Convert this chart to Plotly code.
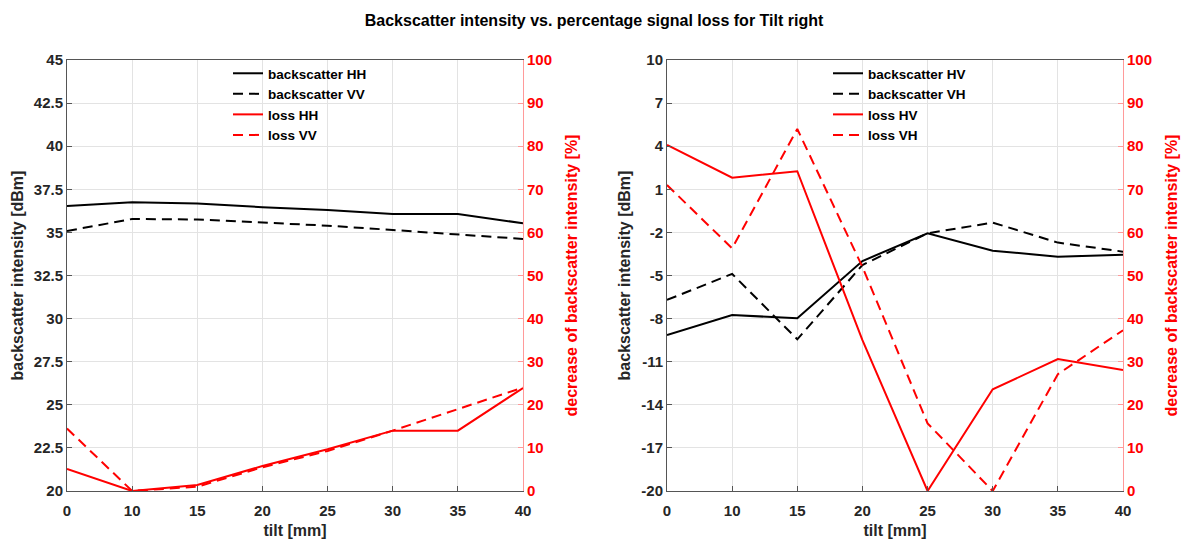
import plotly.graph_objects as go

# tilt steps (mm), drawn as equally spaced categories
tilt = ["0", "10", "15", "20", "25", "30", "35", "40"]

# co-polarised backscatter [dBm]
backscatter_hh = [36.53, 36.75, 36.67, 36.46, 36.3, 36.07, 36.07, 35.53]
backscatter_vv = [35.08, 35.78, 35.75, 35.59, 35.39, 35.14, 34.9, 34.62]
# co-polarised loss [%]
loss_hh = [5.1, 0.0, 1.4, 5.8, 9.7, 14.0, 14.0, 23.9]
loss_vv = [14.5, 0.0, 1.0, 5.5, 9.3, 14.0, 19.0, 24.0]

# cross-polarised backscatter [dBm]
backscatter_hv = [-9.14, -7.75, -7.98, -3.99, -2.06, -3.27, -3.69, -3.55]
backscatter_vh = [-6.7, -4.89, -9.44, -4.27, -2.06, -1.32, -2.71, -3.34]
# cross-polarised loss [%]
loss_hv = [80.3, 72.7, 74.2, 35.0, 0.0, 23.6, 30.6, 28.1]
loss_vh = [71.0, 56.3, 84.0, 52.0, 15.7, 0.0, 27.1, 37.3]

left_ticks = [20, 22.5, 25, 27.5, 30, 32.5, 35, 37.5, 40, 42.5, 45]
right_ticks = [-20, -17, -14, -11, -8, -5, -2, 1, 4, 7, 10]
pct_ticks = [0, 10, 20, 30, 40, 50, 60, 70, 80, 90, 100]

FONT = "Liberation Sans, Arial, sans-serif"
BLACK = "#000000"
RED = "#ff0000"
LW = 2
DASH = "10px,6px"

fig = go.Figure()

def add(x, y, name, color, dash, xa, ya, legend):
    fig.add_trace(go.Scatter(
        x=x, y=y, name=name, mode="lines",
        line=dict(color=color, width=LW, dash=dash),
        xaxis=xa, yaxis=ya, legend=legend,
    ))

add(tilt, backscatter_hh, "<b>backscatter HH</b>", BLACK, "solid", "x", "y", "legend")
add(tilt, backscatter_vv, "<b>backscatter VV</b>", BLACK, DASH, "x", "y", "legend")
add(tilt, loss_hh, "<b>loss HH</b>", RED, "solid", "x", "y2", "legend")
add(tilt, loss_vv, "<b>loss VV</b>", RED, DASH, "x", "y2", "legend")

add(tilt, backscatter_hv, "<b>backscatter HV</b>", BLACK, "solid", "x2", "y3", "legend2")
add(tilt, backscatter_vh, "<b>backscatter VH</b>", BLACK, DASH, "x2", "y3", "legend2")
add(tilt, loss_hv, "<b>loss HV</b>", RED, "solid", "x2", "y4", "legend2")
add(tilt, loss_vh, "<b>loss VH</b>", RED, DASH, "x2", "y4", "legend2")

W, H = 1188, 542
left_dom = [67 / W, 523 / W]
right_dom = [667 / W, 1123 / W]
y_dom = [1 - 491 / H, 1 - 60 / H]

tickfont_k = dict(family=FONT, size=15, color="#262626")
tickfont_r = dict(family=FONT, size=15, color=RED)
titlefont_k = dict(family=FONT, size=16, color="#262626")
titlefont_r = dict(family=FONT, size=16, color=RED)

xcommon = dict(
    type="category", categoryorder="array", categoryarray=tilt,
    range=[0, len(tilt) - 1], automargin=False,
    showgrid=True, gridcolor="#e3e3e3", gridwidth=1,
    showline=True, linecolor="#555555", linewidth=1, mirror=True,
    ticks="inside", ticklen=5, tickcolor="#555555",
    tickfont=tickfont_k, ticklabelstandoff=6,
    title=dict(text="<b>tilt [mm]</b>", font=titlefont_k, standoff=6),
    zeroline=False,
)
ycommon = dict(
    showgrid=True, gridcolor="#e3e3e3", gridwidth=1, automargin=False,
    showline=True, linecolor="#555555", linewidth=1,
    ticks="inside", ticklen=5, tickcolor="#555555",
    tickfont=tickfont_k, zeroline=False,
)
pct_common = dict(
    range=[0, 100], tickvals=pct_ticks, automargin=False,
    ticktext=[f"<b>{v}</b>" for v in pct_ticks],
    showgrid=False, showline=True, linecolor="#ff9a9a", linewidth=1,
    ticks="inside", ticklen=5, tickcolor="#ff9a9a",
    tickfont=tickfont_r, zeroline=False, side="right",
    title=dict(text="<b>decrease of backscatter intensity [%]</b>",
               font=titlefont_r, standoff=14),
)

legend_common = dict(
    yanchor="top", xanchor="left",
    bgcolor="rgba(255,255,255,0)", borderwidth=0,
    font=dict(family=FONT, size=13.5, color="#000000"),
    tracegroupgap=0, itemwidth=30,
)

fig.update_layout(
    width=W, height=H,
    paper_bgcolor="white", plot_bgcolor="white",
    margin=dict(l=0, r=0, t=0, b=0),
    showlegend=True,
    title=dict(
        text="<b>Backscatter intensity vs. percentage signal loss for Tilt right</b>",
        font=dict(family=FONT, size=16, color="#000000"),
        x=0.5, xanchor="center", y=1 - 20 / H, yanchor="middle",
    ),
    xaxis=dict(domain=left_dom, anchor="y",
               ticktext=[f"<b>{t}</b>" for t in tilt], tickvals=tilt, **xcommon),
    yaxis=dict(domain=y_dom, anchor="x", range=[20, 45], tickvals=left_ticks,
               ticktext=[f"<b>{v:g}</b>" for v in left_ticks],
               title=dict(text="<b>backscatter intensity [dBm]</b>",
                          font=titlefont_k, standoff=6),
               **ycommon),
    yaxis2=dict(overlaying="y", anchor="x", **pct_common),
    xaxis2=dict(domain=right_dom, anchor="y3",
                ticktext=[f"<b>{t}</b>" for t in tilt], tickvals=tilt, **xcommon),
    yaxis3=dict(domain=y_dom, anchor="x2", range=[-20, 10], tickvals=right_ticks,
                ticktext=[f"<b>{v}</b>" for v in right_ticks],
                title=dict(text="<b>backscatter intensity [dBm]</b>",
                           font=titlefont_k, standoff=6),
                **ycommon),
    yaxis4=dict(overlaying="y3", anchor="x2", **pct_common),
    legend=dict(x=228 / W, y=1 - 58 / H, **legend_common),
    legend2=dict(x=828 / W, y=1 - 58 / H, **legend_common),
)

fig.write_html("out.html")
